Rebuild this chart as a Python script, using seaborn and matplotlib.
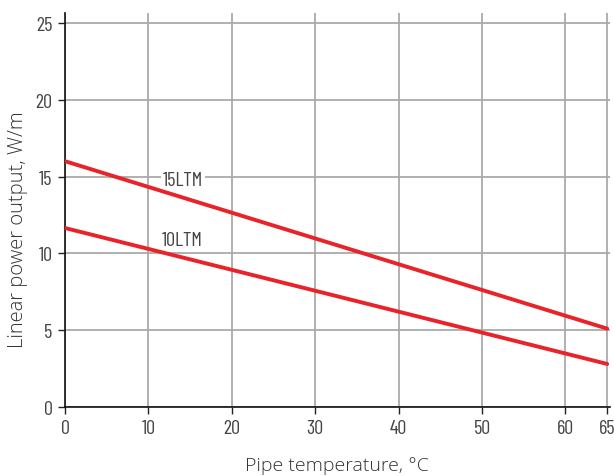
import numpy as np
import pandas as pd
import matplotlib
matplotlib.use("Agg")
import matplotlib.pyplot as plt
import seaborn as sns

# ── Data ────────────────────────────────────────
temps = [0, 65]
power_15ltm = [16.0, 5.1]
power_10ltm = [11.65, 2.8]
x_ticks = [0, 10, 20, 30, 40, 50, 60, 65]
y_ticks = [0, 5, 10, 15, 20, 25]

df = pd.concat([
    pd.DataFrame({"temp": temps, "power": power_15ltm, "cable": "15LTM"}),
    pd.DataFrame({"temp": temps, "power": power_10ltm, "cable": "10LTM"}),
])

sns.set_theme(style="white")
plt.rcParams["font.family"] = ["Open Sans", "DejaVu Sans"]
narrow = ["Barlow Condensed", "Liberation Sans Narrow", "DejaVu Sans"]

fig = plt.figure(figsize=(6.14, 4.77), dpi=100)
ax = fig.add_axes([0.106, 0.1447, 0.887, 0.826])

ax.grid(True, color="#aaaaaa", lw=1.3)
ax.set_axisbelow(True)

sns.lineplot(data=df, x="temp", y="power", hue="cable",
             palette={"15LTM": "#e8232a", "10LTM": "#e8232a"},
             lw=2.8, legend=False, ax=ax, zorder=3)

ax.set_xlim(0, 65.3)
ax.set_ylim(0, 25.65)
ax.set_xticks(x_ticks)
ax.set_yticks(y_ticks)
for lbl in ax.get_xticklabels() + ax.get_yticklabels():
    lbl.set_family(narrow)
    lbl.set_fontsize(14.5)
    lbl.set_color("#444444")
ax.tick_params(axis="both", length=5, width=1, color="#222222", pad=4,
               bottom=True, left=True)

for side in ["top", "right"]:
    ax.spines[side].set_visible(False)
for side in ["left", "bottom"]:
    ax.spines[side].set_color("#111111")
    ax.spines[side].set_linewidth(1.2)

ax.set_xlabel("Pipe temperature, °C", fontsize=14, weight=300, color="#333333")
ax.set_ylabel("Linear power output, W/m", fontsize=14.5, weight=300, color="#333333")
ax.xaxis.set_label_coords(0.50, -0.125)
ax.yaxis.set_label_coords(-0.068, 0.452)

box = dict(facecolor="white", edgecolor="none", pad=1.5)
ax.text(14.1, 14.8, "15LTM", family=narrow, fontsize=14.5, color="#444444",
        ha="center", va="center", bbox=box, zorder=2)
ax.text(14.1, 10.9, "10LTM", family=narrow, fontsize=14.5, color="#444444",
        ha="center", va="center", bbox=box, zorder=2)

fig.savefig("out.png", dpi=100)
